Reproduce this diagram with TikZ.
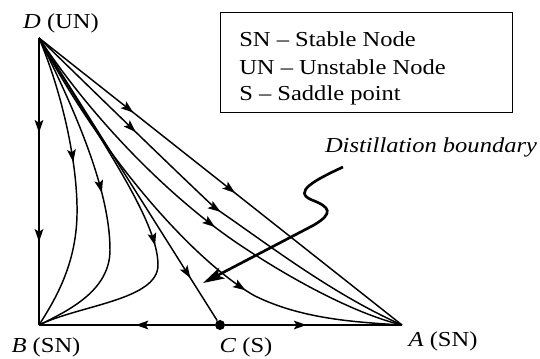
\documentclass[tikz,border=0pt]{standalone}
\usepackage{fontspec}
\setmainfont{Liberation Serif}[FakeStretch=1.15]
\usetikzlibrary{arrows.meta,decorations.markings}
\tikzset{
  flow/.style={line width=1.1pt},
  arrowat/.style={postaction={decorate,decoration={markings,
     mark=at position #1 with {\arrow{Stealth[length=9.5pt,width=6.5pt,inset=2pt]}}}}},
  lbl/.style={font=\fontsize{16}{19}\selectfont, inner sep=0pt, anchor=base},
  legtxt/.style={font=\fontsize{16}{19}\selectfont, inner sep=0pt, anchor=base west},
  boundary/.style={line width=2pt, -{Stealth[length=16pt,width=9pt,inset=3.5pt]}},
}
\begin{document}
\begin{tikzpicture}[x=0.75pt,y=-0.75pt]
\useasboundingbox (0,0) rectangle (540,358);
% vertices
\coordinate (D) at (39,38);
\coordinate (B) at (39,325);
\coordinate (A) at (402,325);
\node[circle, fill, inner sep=0pt, minimum size=7.5pt] (C) at (220,325) {};
% labels
\node[lbl] (Dl) at (61,28) {\textit{D} (UN)};
\node[lbl] (Bl) at (46,352) {\textit{B} (SN)};
\node[lbl] (Cl) at (246,352) {\textit{C} (S)};
\node[lbl] (Al) at (443,346) {\textit{A} (SN)};
\node[lbl] (dbl) at (431,152) {\textit{Distillation boundary}};
% legend
\node[draw, line width=1pt, anchor=north west, inner sep=0pt,
      minimum width=219pt, minimum height=75pt] (legbox) at (220,12) {};
\node[legtxt] (leg1) at (239,46) {SN -- Stable Node};
\node[legtxt] (leg2) at (239,74) {UN -- Unstable Node};
\node[legtxt] (leg3) at (239,100) {S -- Saddle point};
% edges of triangle
\draw[flow, arrowat=0.33, arrowat=0.71] (D) -- (B);
\draw[flow, arrowat=0.45] (C) -- (B);
\draw[flow, arrowat=0.46] (C) -- (A);
\draw[flow, arrowat=0.26, arrowat=0.54] (D) -- (A);
\draw[flow, arrowat=0.85] (D) -- (C);
% curves to B
\draw[flow, arrowat=0.43] (D) .. controls (65,100) and (78,170) .. (77,215)
   .. controls (76,265) and (55,300) .. (B);
\draw[flow, arrowat=0.5] (D) .. controls (75,110) and (110,190) .. (110,250)
   .. controls (110,290) and (70,310) .. (B);
\draw[flow, arrowat=0.6] (D) .. controls (100,140) and (158,220) .. (158,265)
   .. controls (158,300) and (80,305) .. (B);
% curves to A
\draw[flow, arrowat=0.29, arrowat=0.54] (D) .. controls (120,117) and (180,175) .. (215,208)
   .. controls (265,242) and (330,293) .. (A);
\draw[flow, arrowat=0.55] (D) .. controls (100,130) and (180,205) .. (240,245)
   .. controls (300,285) and (360,315) .. (A);
\draw[flow, arrowat=0.67] (D) .. controls (110,170) and (200,265) .. (255,296)
   .. controls (300,318) and (350,322) .. (A);
% distillation boundary pointer
\coordinate (bstart) at (343,167);
\coordinate (btip) at (203,283);
\draw[boundary] (bstart) .. controls (315,180) and (292,192) .. (312,200)
   .. controls (330,207) and (334,213) .. (314,225) -- (btip);
\end{tikzpicture}
\end{document}
